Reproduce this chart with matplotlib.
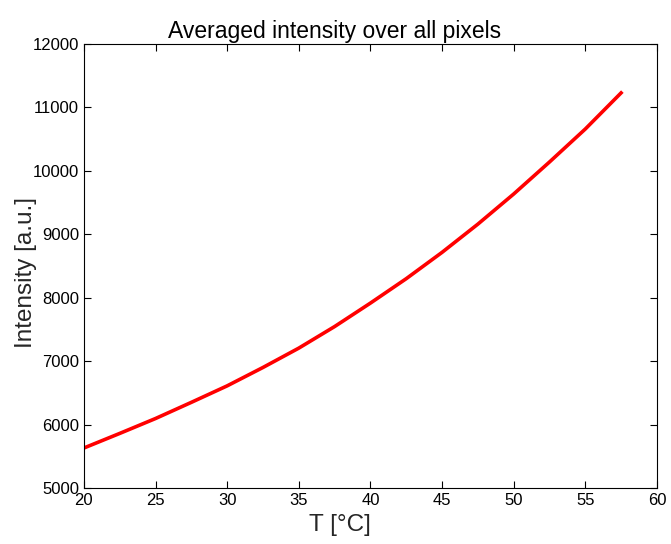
import matplotlib.pyplot as plt
import numpy as np

temperature = [20, 22.5, 25, 27.5, 30, 32.5, 35, 37.5, 40, 42.5, 45, 47.5, 50, 52.5, 55, 57.5]
intensity = [5630, 5860, 6095, 6350, 6610, 6900, 7205, 7545, 7915, 8300, 8715, 9160, 9635, 10140, 10660, 11230]

plt.rcParams['font.family'] = ['Liberation Sans', 'DejaVu Sans']

fig = plt.figure(figsize=(6.71, 5.44), dpi=100)
ax = fig.add_axes([0.125, 0.103, 0.854, 0.816])

ax.plot(temperature, intensity, color='red', linewidth=2.6)

ax.set_xlim(20, 60)
ax.set_ylim(5000, 12000)
ax.set_xticks(np.arange(20, 61, 5))
ax.set_yticks(np.arange(5000, 12001, 1000))
ax.tick_params(direction='in', top=True, right=True, labelsize=12, length=5, width=0.8)
for s in ax.spines.values():
    s.set_linewidth(0.8)

ax.set_xlabel('T [°C]', fontsize=17.5, color='#262626')
ax.set_ylabel('Intensity [a.u.]', fontsize=17.5, color='#262626')
ax.xaxis.set_label_coords(0.447, -0.058)
ax.yaxis.set_label_coords(-0.082, 0.486)
ax.set_title('Averaged intensity over all pixels', fontsize=16.5, pad=4.5, x=0.438)

fig.savefig('out.png', dpi=100)
